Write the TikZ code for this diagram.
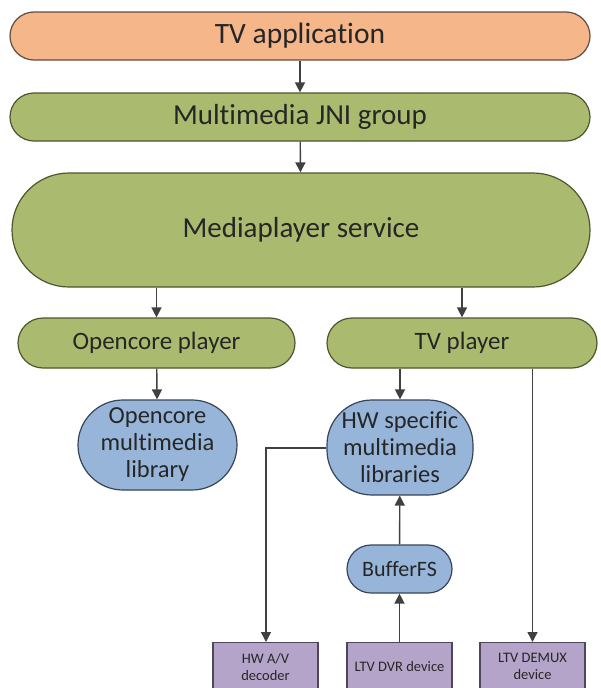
\documentclass[tikz,border=0pt]{standalone}
\usepackage{fontspec}
\setmainfont{Carlito}[Ligatures=NoCommon]
\usetikzlibrary{arrows.meta}
\definecolor{orfill}{HTML}{F5B68A}
\definecolor{ordraw}{HTML}{5E4E44}
\definecolor{grfill}{HTML}{AABB6F}
\definecolor{grdraw}{HTML}{4E5630}
\definecolor{blfill}{HTML}{97B5D9}
\definecolor{bldraw}{HTML}{37455A}
\definecolor{pufill}{HTML}{B4A4C9}
\definecolor{pudraw}{HTML}{4E465A}
\definecolor{arr}{HTML}{404040}
\definecolor{txt}{HTML}{262626}
\begin{document}
\begin{tikzpicture}[x=1pt,y=-1pt,
  basebox/.style={inner sep=0pt, line width=1.2pt, text=txt, align=center},
  orpill/.style={basebox, draw=ordraw, fill=orfill, minimum width=580pt, minimum height=48pt, rounded corners=24pt, font=\fontsize{29.5}{31}\selectfont},
  grpill/.style={basebox, draw=grdraw, fill=grfill, rounded corners=24pt, font=\fontsize{29}{31}\selectfont},
  grsmall/.style={basebox, draw=grdraw, fill=grfill, minimum height=50pt, rounded corners=25pt, font=\fontsize{25}{27}\selectfont},
  blpill/.style={basebox, draw=bldraw, fill=blfill, font=\fontsize{24.5}{27}\selectfont},
  pubox/.style={basebox, draw=pudraw, fill=pufill, minimum width=105pt, minimum height=48pt, font=\fontsize{14.5}{17}\selectfont},
  conn/.style={draw=arr, line width=1.4pt, -{Triangle[length=10pt,width=10pt]}},
]
\useasboundingbox (0,0) rectangle (600,688);
\clip (0,0) rectangle (600,688);
\fill[white] (0,0) rectangle (600,688);

\node[orpill] (app) at (300,36) {TV application};
\node[grpill, minimum width=580pt, minimum height=48pt] (jni) at (300,117) {Multimedia JNI group};
\node[grpill, minimum width=578pt, minimum height=114pt, rounded corners=57pt] (mps) at (301,230) {Mediaplayer service};
\node[grsmall, minimum width=277pt] (ocp) at (156.5,343) {Opencore player};
\node[grsmall, minimum width=270pt] (tvp) at (462,343) {TV player};
\node[blpill, minimum width=159pt, minimum height=90pt, rounded corners=45pt] (ocl) at (157.5,445) {Opencore\\multimedia\\library};
\node[blpill, minimum width=146pt, minimum height=95pt, rounded corners=45pt] (hwl) at (400,447.5) {HW specific\\multimedia\\libraries};
\node[blpill, minimum width=105pt, minimum height=48pt, rounded corners=24pt, font=\fontsize{22}{24}\selectfont] (bfs) at (399.5,569) {BufferFS};
\node[pubox, anchor=north] (avd) at (265.5,642) {HW A/V\\decoder};
\node[pubox, anchor=north] (dvr) at (399.5,642) {LTV DVR device};
\node[pubox, anchor=north] (dmx) at (532.5,642) {LTV DEMUX\\device};

\coordinate (bend) at (266,448);
\draw[conn] (app) -- (jni);
\draw[conn] (jni) -- (mps);
\draw[conn] (mps.south -| ocp) -- (ocp);
\draw[conn] (mps.south -| tvp) -- (tvp);
\draw[conn] (ocp) -- (ocl);
\draw[conn] (tvp.south -| hwl) -- (hwl);
\draw[conn] (tvp.south -| dmx) -- (dmx);
\draw[conn] (hwl.west |- bend) -- (bend) -- (avd.north -| bend);
\draw[conn] (bfs) -- (hwl);
\draw[conn] (dvr) -- (bfs);
\end{tikzpicture}
\end{document}
